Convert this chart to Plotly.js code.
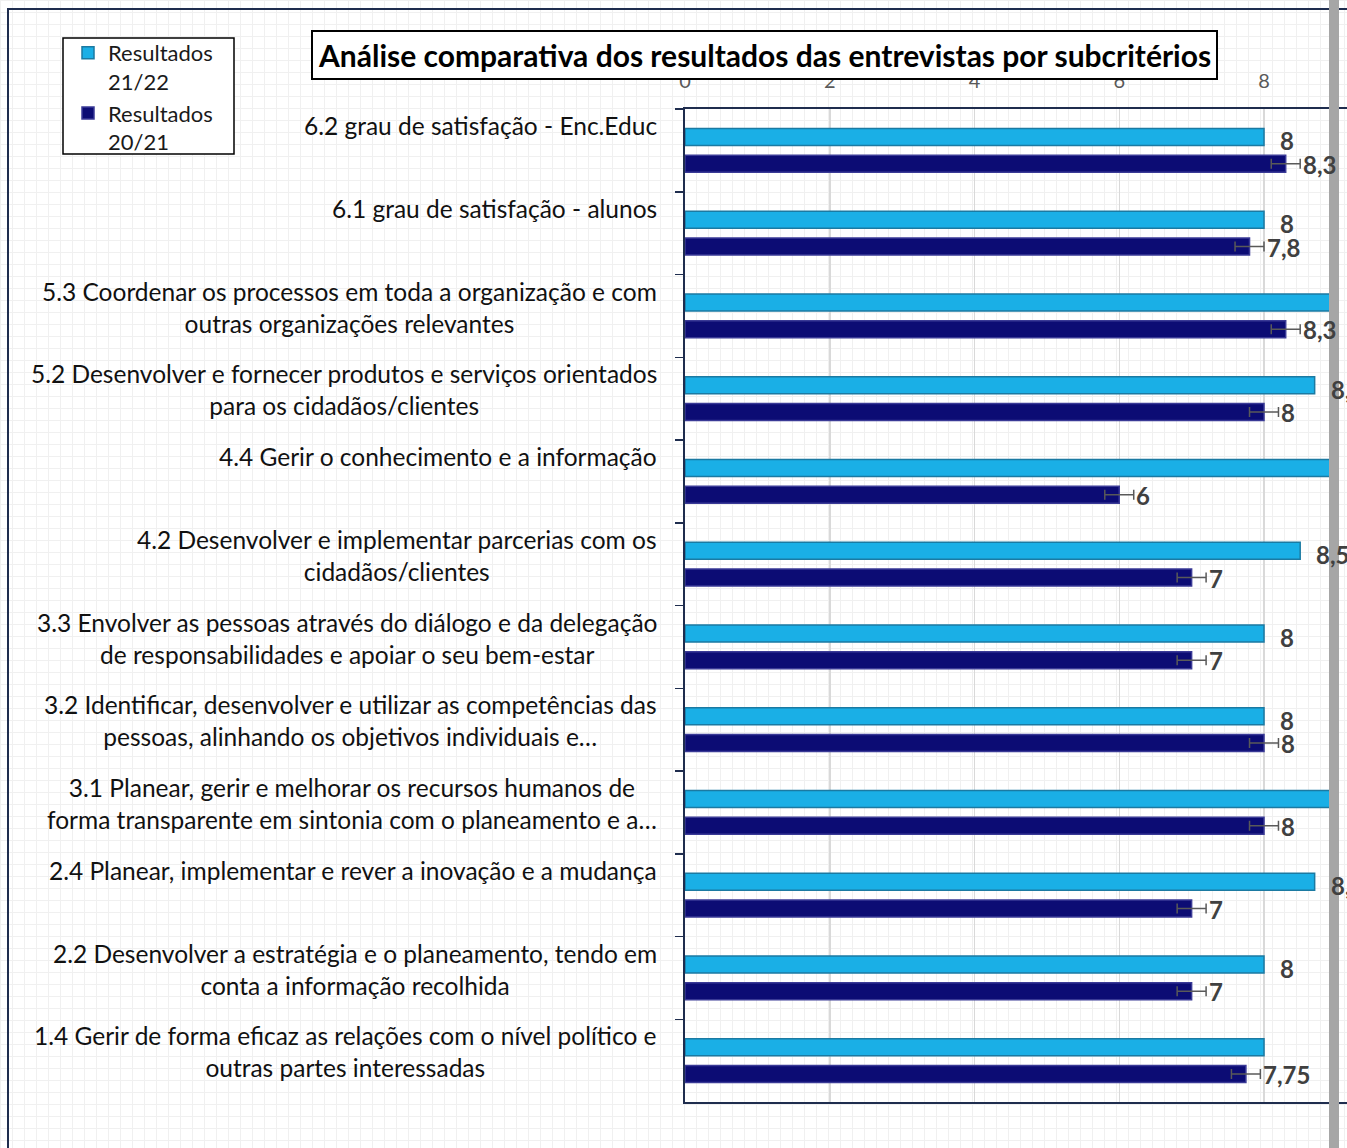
<!DOCTYPE html>
<html>
<head>
<meta charset="utf-8">
<script src="https://cdn.plot.ly/plotly-3.0.1.min.js"></script>
<style>
  html, body { margin: 0; padding: 0; overflow: hidden; }
  body {
    width: 1347px; height: 1148px;
    background-color: #ffffff;
    background-image:
      linear-gradient(#f0f0f0 1.5px, transparent 1.5px),
      linear-gradient(90deg, #f0f0f0 1.5px, transparent 1.5px);
    background-size: 12px 12px;
  }
  #chart { width: 1347px; height: 1148px; }
</style>
</head>
<body>
<div id="chart"></div>
<script>
// ---- data ----
const categories = [
  "6.2 grau de satisfação - Enc.Educ",
  "6.1 grau de satisfação - alunos",
  "5.3 Coordenar os processos em toda a organização e com<br>outras organizações relevantes",
  "5.2 Desenvolver e fornecer produtos e serviços orientados<br>para os cidadãos/clientes",
  "4.4 Gerir o conhecimento e a informação",
  "4.2 Desenvolver e implementar parcerias com os<br>cidadãos/clientes",
  "3.3 Envolver as pessoas através do diálogo e da delegação<br>de responsabilidades e apoiar o seu bem-estar",
  "3.2 Identificar, desenvolver e utilizar as competências das<br>pessoas, alinhando os objetivos individuais e…",
  "3.1 Planear, gerir e melhorar os recursos humanos de<br>forma transparente em sintonia com o planeamento e a…",
  "2.4 Planear, implementar e rever a inovação e a mudança",
  "2.2 Desenvolver a estratégia e o planeamento, tendo em<br>conta a informação recolhida",
  "1.4 Gerir de forma eficaz as relações com o nível político e<br>outras partes interessadas"
];
const resultados2122 = [8, 8, 9, 8.7, 9, 8.5, 8, 8, 9, 8.7, 8, 8];
const labels2122 = ["8", "8", "9", "8,7", "9", "8,5", "8", "8", "9", "8,7", "8", ""];
const resultados2021 = [8.3, 7.8, 8.3, 8, 6, 7, 7, 8, 8, 7, 7, 7.75];
const labels2021 = ["8,3", "7,8", "8,3", "8", "6", "7", "7", "8", "8", "7", "7", "7,75"];
const erros2021 = [0.2, 0.2, 0.2, 0.2, 0.2, 0.2, 0.2, 0.2, 0.2, 0.2, 0.2, 0.2];
const xTicks = [0, 2, 4, 6, 8];
const seriesNames = ["Resultados<br>21/22", "Resultados<br>20/21"];
const chartTitle = "Análise comparativa dos resultados das entrevistas por subcritérios";

// ---- geometry helpers (pixel -> paper) ----
const W = 1347, H = 1148;
const M = { l: 685, r: 0, t: 109, b: 46 };
const PW = W - M.l - M.r, PH = H - M.t - M.b;
const px = x => (x - M.l) / PW;
const py = y => 1 - (y - M.t) / PH;
const FONT = "Lato, 'Noto Sans', sans-serif";
const N = categories.length;

const traces = [
  {
    type: "bar", orientation: "h", name: seriesNames[0],
    y: categories, x: resultados2122,
    marker: { color: "#1aafe6", line: { color: "#1b7aa2", width: 1.5 } },
    hoverinfo: "skip"
  },
  {
    type: "bar", orientation: "h", name: seriesNames[1],
    y: categories, x: resultados2021,
    marker: { color: "#0c0c74", line: { color: "#3a3a96", width: 1.5 } },
    error_x: { type: "data", array: erros2021, visible: true, color: "#595959", thickness: 1.5, width: 5 },
    hoverinfo: "skip"
  }
];

const annotations = [];
// category labels
categories.forEach((c, i) => {
  annotations.push({
    text: c, x: 0, xref: "x", y: i - 0.5, yref: "y",
    xanchor: "right", yanchor: "top", xshift: -26, yshift: 0,
    align: "center", showarrow: false,
    font: { family: FONT, size: 24.5, color: "#111111" }
  });
});
// value labels
const band = PH / N;
const offL = -13.5 / band, offD = 13 / band;
resultados2122.forEach((v, i) => {
  if (!labels2122[i]) return;
  annotations.push({
    text: labels2122[i], x: v, xref: "x", y: i + offL, yref: "y",
    xanchor: "left", yanchor: "middle", xshift: 14, yshift: -4, showarrow: false,
    font: { family: FONT, size: 24, color: "#404040", weight: "bold" }
  });
});
resultados2021.forEach((v, i) => {
  annotations.push({
    text: labels2021[i], x: v, xref: "x", y: i + offD, yref: "y",
    xanchor: "left", yanchor: "middle", xshift: 15, yshift: -1, showarrow: false,
    font: { family: FONT, size: 24, color: "#404040", weight: "bold" }
  });
});
// title
annotations.push({
  text: "<b>" + chartTitle + "</b>", xref: "paper", yref: "paper",
  x: px(764), y: py(55), xanchor: "center", yanchor: "middle", showarrow: false,
  bgcolor: "#ffffff", bordercolor: "#000000", borderwidth: 2, borderpad: 5,
  font: { family: FONT, size: 30, color: "#000000" }
});

const layout = {
  width: W, height: H, margin: M,
  paper_bgcolor: "rgba(0,0,0,0)", plot_bgcolor: "rgba(0,0,0,0)",
  barmode: "group", bargap: 0.35, bargroupgap: 0.37,
  font: { family: FONT },
  xaxis: {
    range: [0, PW / 72.375], side: "top", tickvals: xTicks, ticktext: xTicks.map(String),
    showgrid: true, gridcolor: "#d9d9d9", gridwidth: 1.5, zeroline: false,
    showline: true, mirror: true, linecolor: "#1f2d4e", linewidth: 2,
    ticks: "outside", ticklen: 11, tickcolor: "rgba(0,0,0,0)",
    tickfont: { family: FONT, size: 20, color: "#595959" }, fixedrange: true
  },
  yaxis: {
    type: "category", categoryorder: "array", categoryarray: categories,
    range: [N - 0.5, -0.5], autorange: false, showticklabels: false,
    ticks: "outside", tickson: "boundaries", ticklen: 8, tickcolor: "#1f2d4e", tickwidth: 1.5,
    showline: true, linecolor: "#1f2d4e", linewidth: 2, showgrid: false, zeroline: false, fixedrange: true
  },
  showlegend: true,
  legend: {
    x: px(68), y: py(32), xanchor: "left", yanchor: "top", valign: "top",
    bgcolor: "rgba(0,0,0,0)", borderwidth: 0,
    traceorder: "normal", font: { family: FONT, size: 22, color: "#1a1a1a" },
    itemclick: false, itemdoubleclick: false, tracegroupgap: 4
  },
  annotations: annotations,
  shapes: [
    { type: "rect", xref: "paper", yref: "paper", x0: px(8), x1: px(1500), y0: py(1300), y1: py(9),
      line: { color: "#1f2d4e", width: 2 }, fillcolor: "rgba(0,0,0,0)", layer: "below" },
    { type: "rect", xref: "paper", yref: "paper", x0: px(63), x1: px(234), y0: py(154), y1: py(38),
      line: { color: "#000000", width: 1.5 }, fillcolor: "#ffffff", layer: "below" },
    { type: "rect", xref: "paper", yref: "paper", x0: px(1329), x1: px(1339), y0: py(1200), y1: py(-20),
      line: { width: 0 }, fillcolor: "#a6a6a6", layer: "above" }
  ]
};

Plotly.newPlot("chart", traces, layout, { staticPlot: true, displayModeBar: false });
</script>
</body>
</html>
